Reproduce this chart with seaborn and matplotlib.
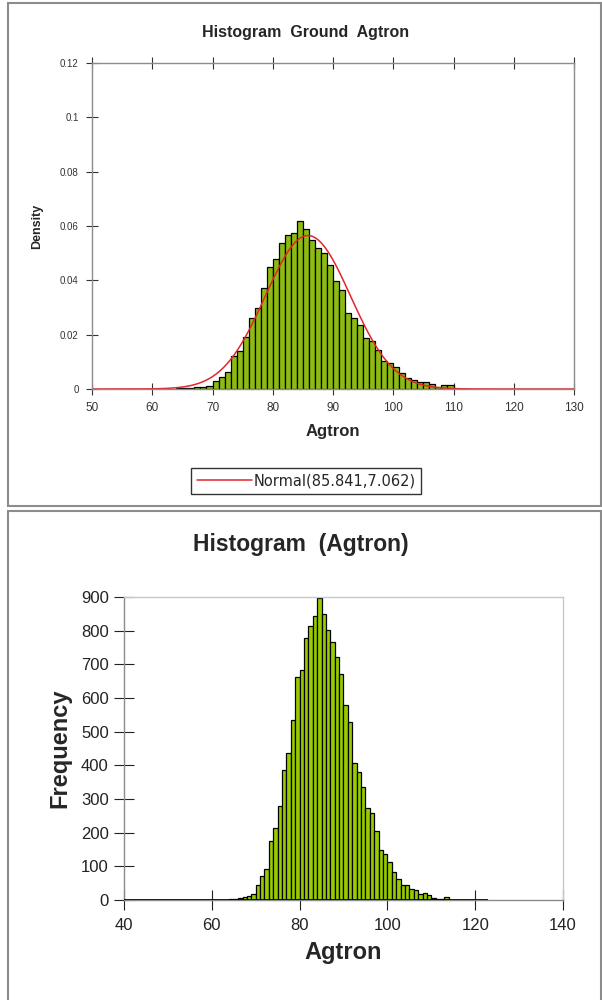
import numpy as np
import pandas as pd
import matplotlib
matplotlib.use("Agg")
import matplotlib.pyplot as plt
import seaborn as sns
from matplotlib.patches import Rectangle

# top chart: density per 1-unit bin, bins start at 64
ground_left = list(range(64, 110))
ground_density = [0.0002, 0.0003, 0.0003, 0.0006, 0.0009, 0.0011, 0.0031, 0.0045, 0.0061, 0.0122,
                  0.0141, 0.0190, 0.0263, 0.0300, 0.0370, 0.0450, 0.0478, 0.0539, 0.0566, 0.0576,
                  0.0619, 0.0588, 0.0549, 0.0520, 0.0500, 0.0456, 0.0398, 0.0365, 0.0279, 0.0263,
                  0.0235, 0.0186, 0.0178, 0.0143, 0.0104, 0.0096, 0.0080, 0.0059, 0.0039, 0.0034,
                  0.0027, 0.0024, 0.0018, 0.0008, 0.0013, 0.0013]
normal_mean = 85.841
normal_sd = 7.062

# bottom chart: frequency per 1-unit bin, bins start at 64
agtron_left = list(range(64, 115))
agtron_freq = [2, 4, 5, 8, 13, 18, 45, 72, 92, 175,
               215, 279, 386, 438, 536, 661, 682, 778, 814, 844,
               897, 850, 802, 765, 722, 671, 580, 529, 407, 380,
               335, 272, 259, 206, 149, 137, 112, 82, 62, 46,
               44, 32, 30, 18, 20, 14, 6, 3, 2, 8, 1]
agtron_bins = list(range(40, 124))

ground = pd.DataFrame({'Agtron': [b + 0.5 for b in ground_left], 'Density': ground_density})
agtron = pd.DataFrame({'Agtron': [b + 0.5 for b in agtron_left], 'Frequency': agtron_freq})

sns.set_style("white")
plt.rcParams['font.family'] = ['Liberation Sans', 'DejaVu Sans']

fig = plt.figure(figsize=(6.02, 10), dpi=100)

# panel frames (two stacked chart boxes)
fig.patches.append(Rectangle((8/602, 1-506/1000), 593/602, 503/1000, transform=fig.transFigure,
                             fill=False, edgecolor='#8c8c8c', lw=1.5))
fig.patches.append(Rectangle((8/602, -0.01), 593/602, 1-511/1000+0.01, transform=fig.transFigure,
                             fill=False, edgecolor='#8c8c8c', lw=1.5))

# ---- top chart
ax1 = fig.add_axes([92/602, 1-389/1000, 482/602, 326/1000])
sns.histplot(data=ground, x='Agtron', weights='Density', bins=list(range(64, 111)),
             color='#8DBA14', edgecolor='black', linewidth=0.9, alpha=1, ax=ax1)
xs = np.linspace(50, 130, 400)
pdf = np.exp(-0.5 * ((xs - normal_mean) / normal_sd) ** 2) / (normal_sd * np.sqrt(2 * np.pi))
sns.lineplot(x=xs, y=pdf, color='#e3262b', lw=1.1, ax=ax1,
             label=f"Normal({normal_mean:.3f},{normal_sd:.3f})", legend=False)
ax1.set_xlim(50, 130)
ax1.set_ylim(0, 0.12)
ax1.set_xticks(range(50, 131, 10))
ax1.set_yticks([0, 0.02, 0.04, 0.06, 0.08, 0.1, 0.12])
ax1.set_yticklabels(['0', '0.02', '0.04', '0.06', '0.08', '0.1', '0.12'])
ax1.tick_params(axis='both', colors='#333333', direction='inout', length=9,
                width=0.8, top=True, bottom=True, left=True)
ax1.tick_params(axis='y', labelsize=7, pad=5)
ax1.tick_params(axis='x', labelsize=8.5, labeltop=False, pad=5)
for s in ax1.spines.values():
    s.set_color('#8c8c8c')
    s.set_linewidth(1)
ax1.set_title("Histogram  Ground  Agtron", fontsize=11.5, fontweight='bold', pad=19,
              x=(306-92)/482)
ax1.set_xlabel("Agtron", fontsize=12, fontweight='bold', labelpad=7)
ax1.set_ylabel("Density", fontsize=9, fontweight='bold', labelpad=12)
h, l = ax1.get_legend_handles_labels()
leg = fig.legend(h, l, loc='center', bbox_to_anchor=(306/602, 1-481/1000),
                 prop={'family': 'DejaVu Sans', 'size': 10.5},
                 frameon=True, fancybox=False, edgecolor='black', handlelength=3.8,
                 handletextpad=0.1, borderpad=0.35, borderaxespad=0)
leg.get_frame().set_linewidth(1)

# ---- bottom chart
ax2 = fig.add_axes([124/602, 1-900/1000, 439/602, 303/1000])
sns.histplot(data=agtron, x='Agtron', weights='Frequency', bins=agtron_bins,
             color='#99CC00', edgecolor='black', linewidth=0.9, alpha=1, ax=ax2)
# black baseline under the empty bins
ax2.hlines(0, agtron_bins[0], agtron_bins[-1], color='black', lw=1.2, zorder=3)
ax2.set_xlim(40, 140)
ax2.set_ylim(0, 900)
ax2.set_xticks(range(40, 141, 20))
ax2.set_yticks(range(0, 901, 100))
ax2.tick_params(axis='both', labelsize=12, colors='#222222', direction='inout', length=14,
                width=0.8, bottom=True, left=True)
ax2.tick_params(axis='x', pad=6)
ax2.tick_params(axis='y', pad=4)
for s in ax2.spines.values():
    s.set_color('#c8c8c8')
    s.set_linewidth(1)
ax2.spines['left'].set_color('#8c8c8c')
ax2.spines['bottom'].set_color('#8c8c8c')
ax2.set_title("Histogram  (Agtron)", fontsize=16.5, fontweight='bold', pad=33,
              x=(301-124)/439)
ax2.set_xlabel("Agtron", fontsize=17, fontweight='bold', labelpad=6)
ax2.set_ylabel("Frequency", fontsize=17, fontweight='bold', labelpad=7)

fig.savefig("out.png", dpi=100)
